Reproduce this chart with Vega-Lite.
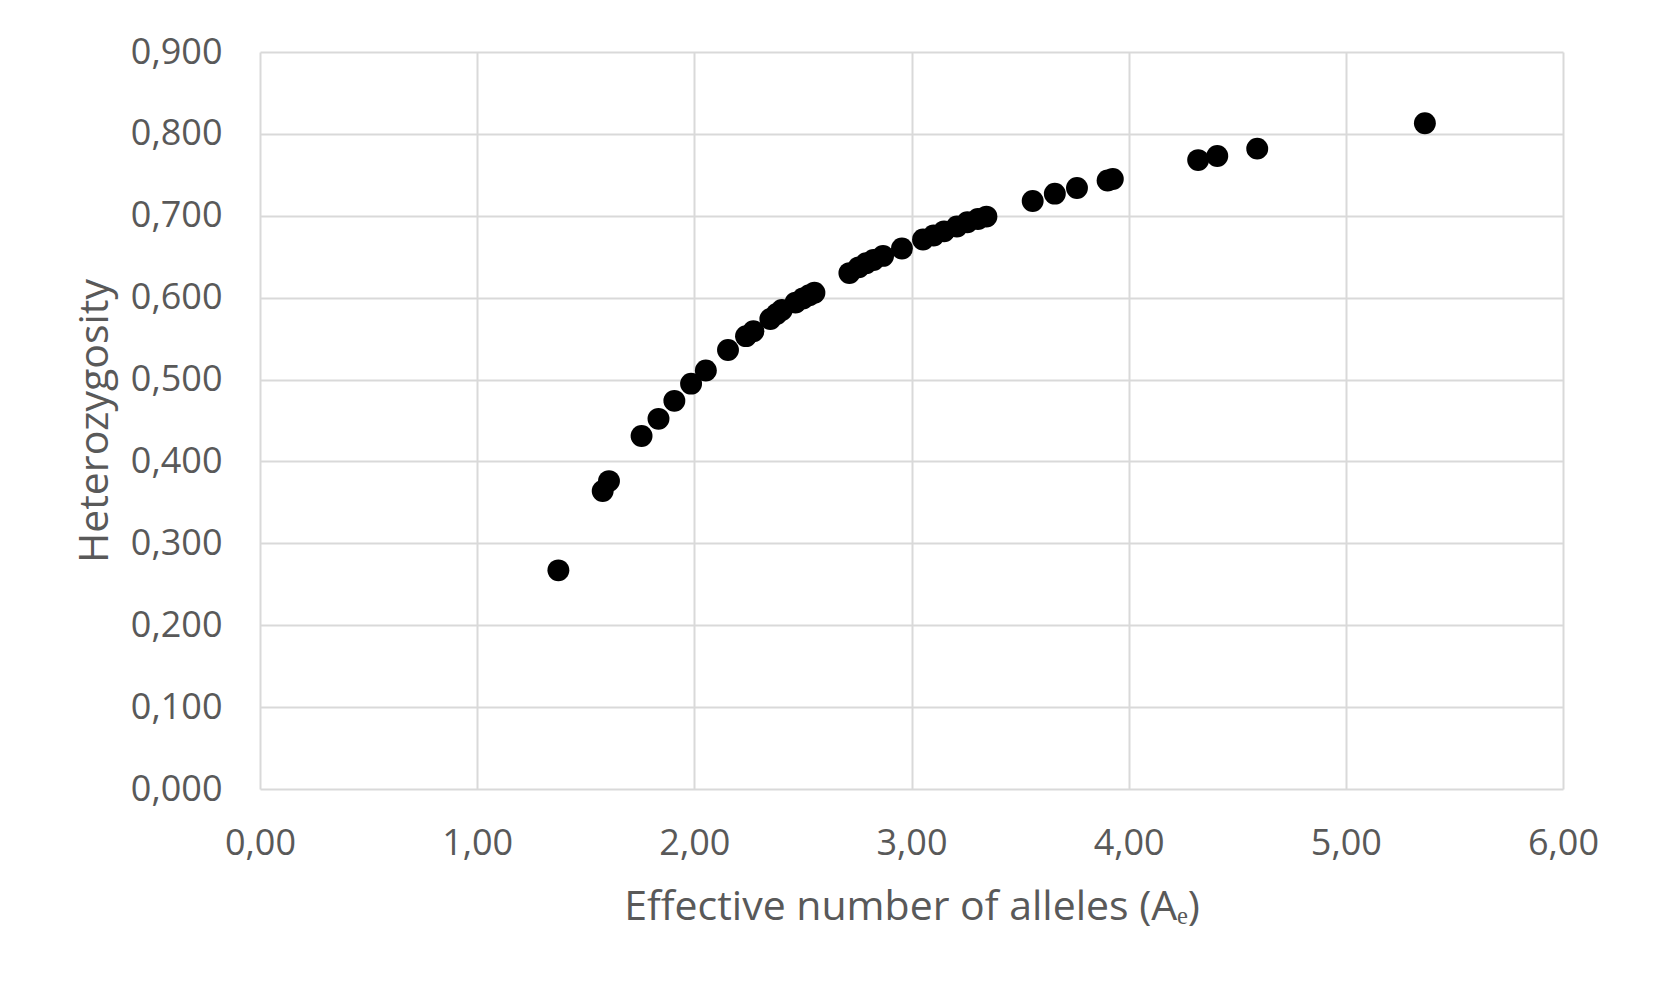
{
  "$schema": "https://vega.github.io/schema/vega-lite/v6.json",
  "width": 1303,
  "height": 737,
  "autosize": {"type": "none"},
  "padding": {"left": 260, "top": 52, "right": 90, "bottom": 204},
  "background": "white",
  "config": {
    "view": {"stroke": null},
    "font": "Open Sans",
    "axis": {
      "labelFont": "Open Sans",
      "titleFont": "Open Sans",
      "labelColor": "#595959",
      "titleColor": "#595959",
      "labelFontSize": 36,
      "titleFontSize": 41,
      "titleFontWeight": "normal",
      "gridColor": "#d9d9d9",
      "gridWidth": 2,
      "gridOpacity": 1,
      "domain": false,
      "ticks": false,
      "tickSize": 0,
      "labelFlush": false,
      "labelOverlap": false
    }
  },
  "data": {
    "values": [
      {"ae": 1.374, "h": 0.267},
      {"ae": 1.578, "h": 0.364},
      {"ae": 1.607, "h": 0.376},
      {"ae": 1.757, "h": 0.431},
      {"ae": 1.835, "h": 0.452},
      {"ae": 1.908, "h": 0.474},
      {"ae": 1.985, "h": 0.495},
      {"ae": 2.053, "h": 0.511},
      {"ae": 2.155, "h": 0.536},
      {"ae": 2.238, "h": 0.553},
      {"ae": 2.272, "h": 0.559},
      {"ae": 2.350, "h": 0.574},
      {"ae": 2.379, "h": 0.580},
      {"ae": 2.403, "h": 0.585},
      {"ae": 2.466, "h": 0.594},
      {"ae": 2.500, "h": 0.599},
      {"ae": 2.529, "h": 0.603},
      {"ae": 2.553, "h": 0.606},
      {"ae": 2.714, "h": 0.630},
      {"ae": 2.757, "h": 0.637},
      {"ae": 2.791, "h": 0.642},
      {"ae": 2.825, "h": 0.646},
      {"ae": 2.869, "h": 0.651},
      {"ae": 2.956, "h": 0.660},
      {"ae": 3.053, "h": 0.671},
      {"ae": 3.102, "h": 0.676},
      {"ae": 3.150, "h": 0.681},
      {"ae": 3.209, "h": 0.687},
      {"ae": 3.257, "h": 0.692},
      {"ae": 3.306, "h": 0.696},
      {"ae": 3.345, "h": 0.699},
      {"ae": 3.558, "h": 0.718},
      {"ae": 3.660, "h": 0.727},
      {"ae": 3.762, "h": 0.734},
      {"ae": 3.903, "h": 0.743},
      {"ae": 3.927, "h": 0.745},
      {"ae": 4.320, "h": 0.768},
      {"ae": 4.408, "h": 0.773},
      {"ae": 4.592, "h": 0.782},
      {"ae": 5.364, "h": 0.813}
    ]
  },
  "mark": {"type": "circle", "color": "black", "opacity": 1, "size": 480},
  "encoding": {
    "x": {
      "field": "ae",
      "type": "quantitative",
      "scale": {"domain": [0, 6], "nice": false, "zero": true},
      "axis": {
        "title": "Effective number of alleles (Aₑ)",
        "values": [0, 1, 2, 3, 4, 5, 6],
        "labelExpr": "replace(format(datum.value, '.2f'), '.', ',')",
        "labelPadding": 37,
        "titlePadding": 26
      }
    },
    "y": {
      "field": "h",
      "type": "quantitative",
      "scale": {"domain": [0, 0.9], "nice": false},
      "axis": {
        "title": "Heterozygosity",
        "values": [0, 0.1, 0.2, 0.3, 0.4, 0.5, 0.6, 0.7, 0.8, 0.9],
        "labelExpr": "replace(format(datum.value, '.3f'), '.', ',')",
        "labelPadding": 38,
        "titlePadding": 14
      }
    }
  }
}
